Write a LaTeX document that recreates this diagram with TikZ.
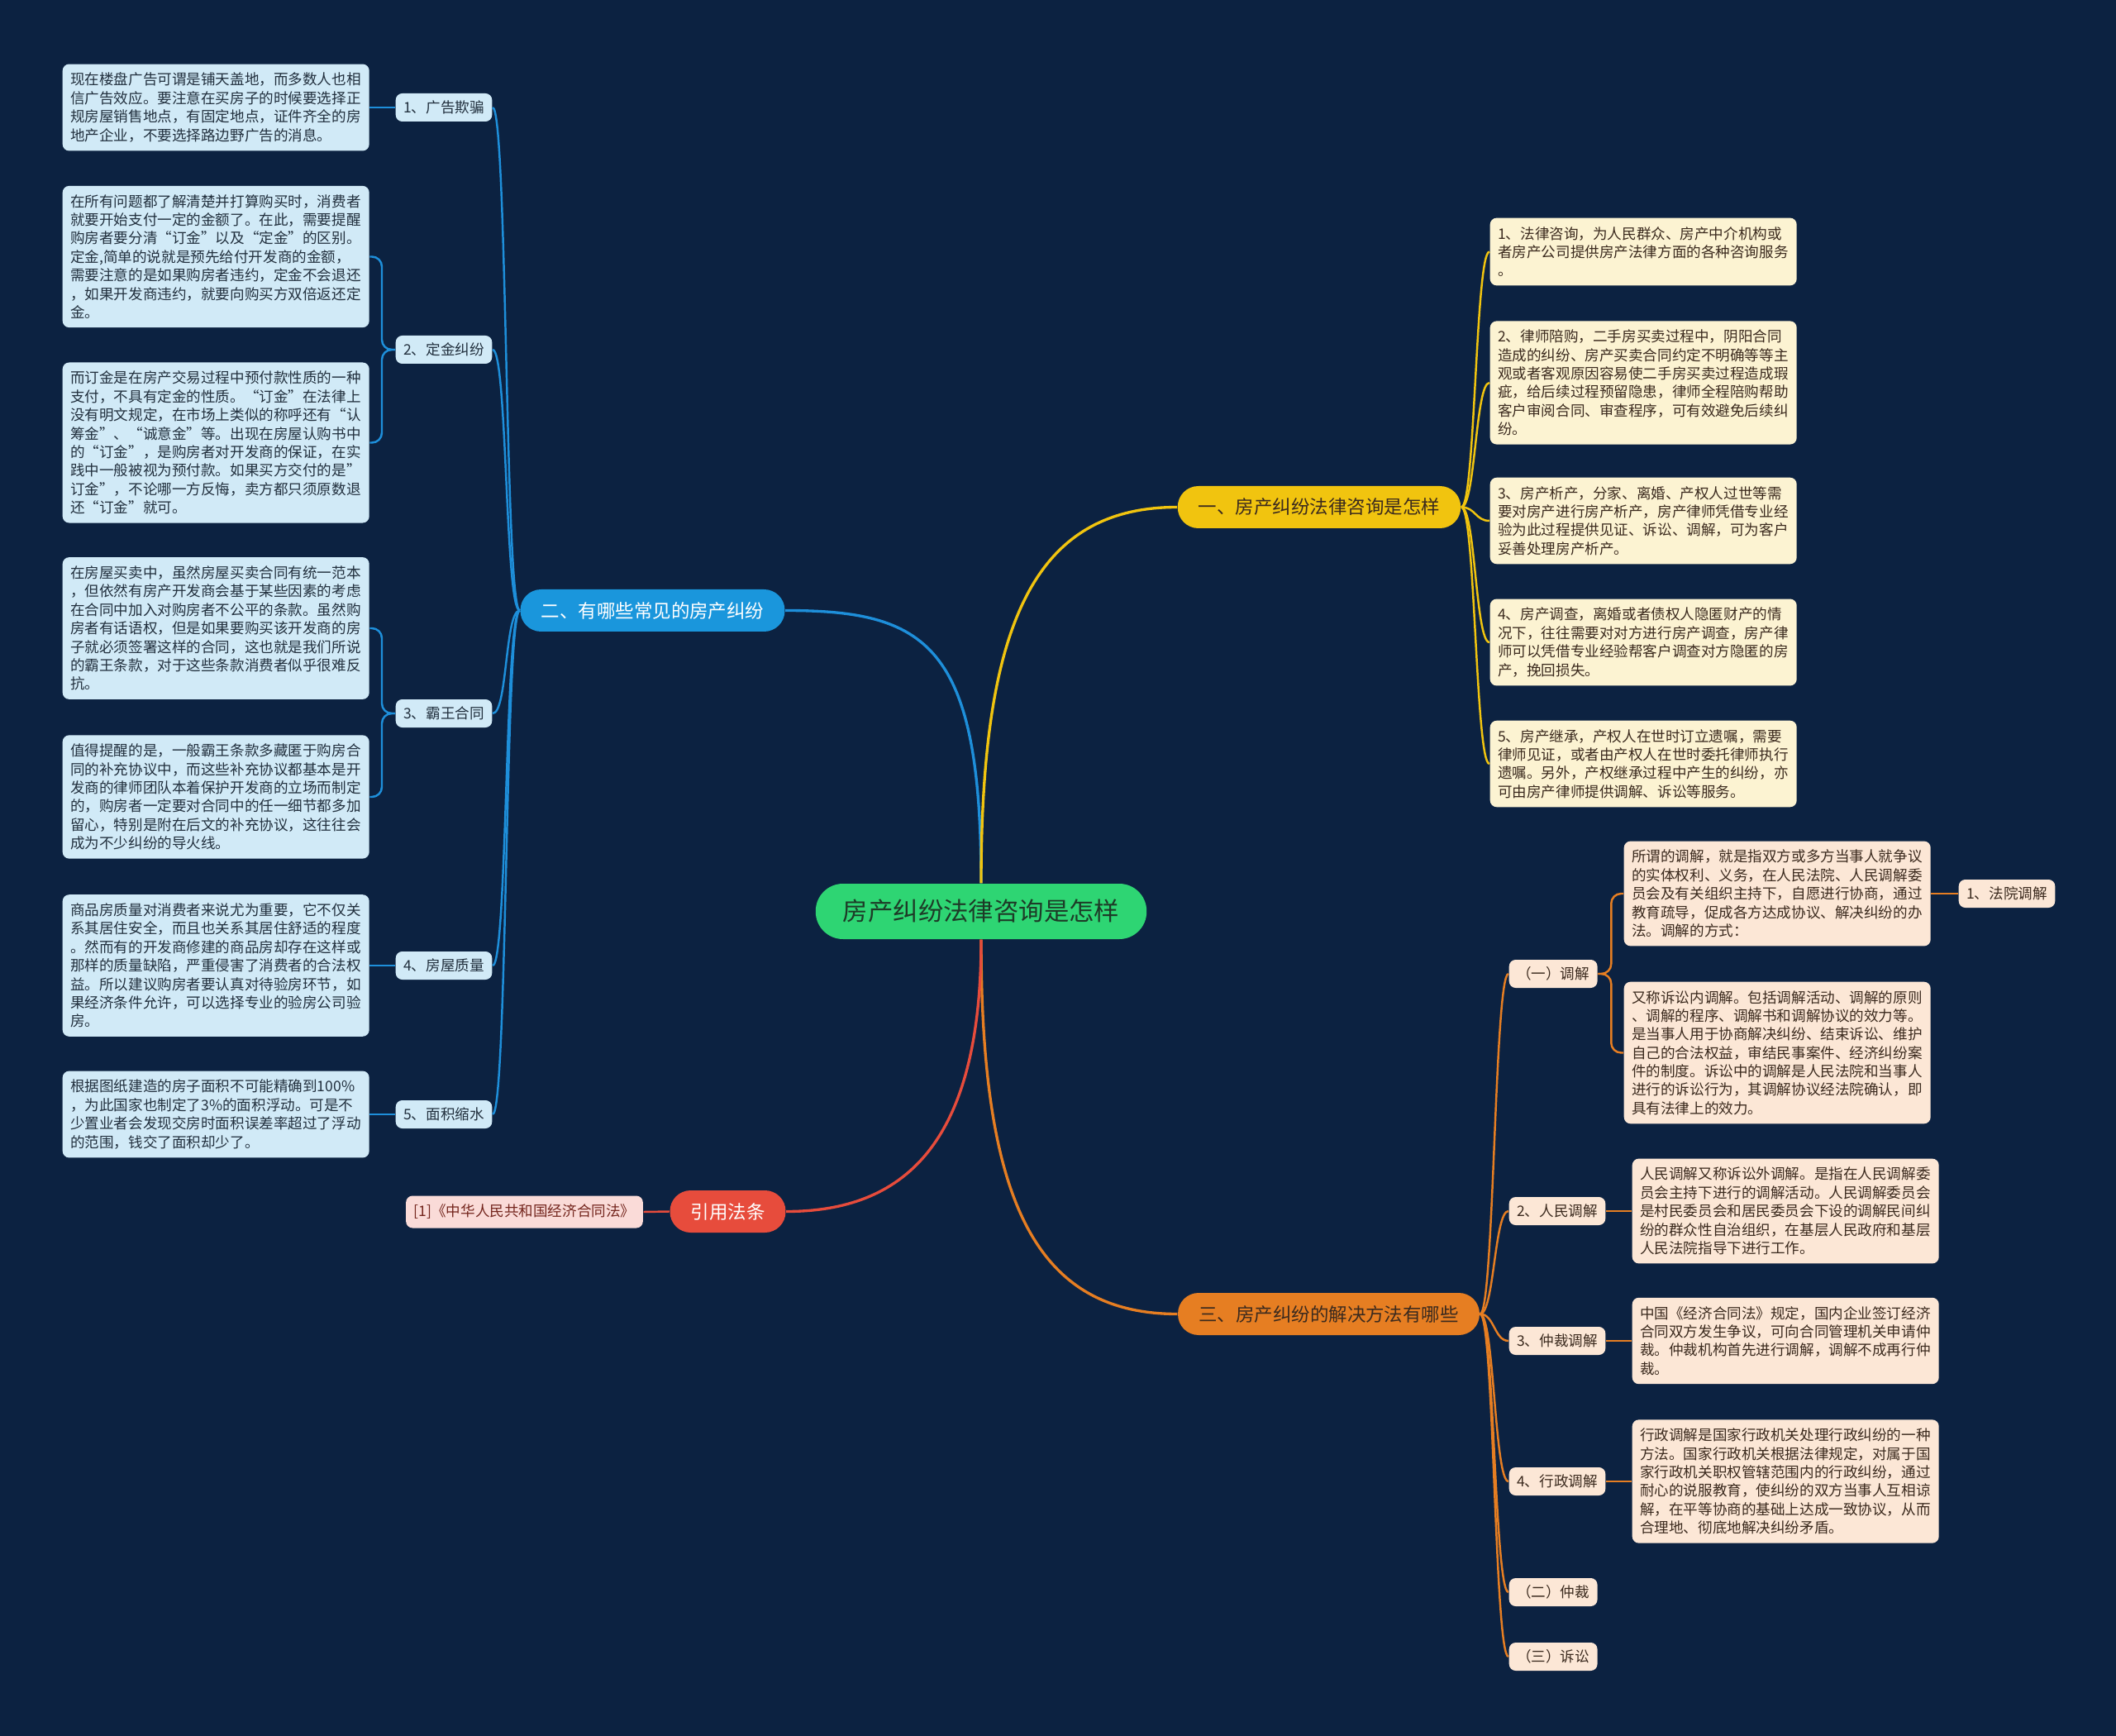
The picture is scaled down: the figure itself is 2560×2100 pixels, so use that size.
\documentclass[tikz,border=0pt]{standalone}
\usepackage{fontspec}
\setmainfont{Noto Sans CJK SC}
\usetikzlibrary{calc}
\definecolor{mapnavy}{HTML}{0C2241}
\definecolor{mapgreen}{HTML}{2ED573}
\definecolor{mapgreenink}{HTML}{1D3B27}
\definecolor{mapblue}{HTML}{1A96DC}
\definecolor{mapblueline}{HTML}{1E8FDA}
\definecolor{mapbluepale}{HTML}{D1EAF7}
\definecolor{mapyellow}{HTML}{F1C40F}
\definecolor{mapyellowpale}{HTML}{FCF3D2}
\definecolor{maporange}{HTML}{E67E22}
\definecolor{maporangepale}{HTML}{FCE7D6}
\definecolor{mapred}{HTML}{E74C3C}
\definecolor{mapredpale}{HTML}{FADBD8}
\definecolor{mapink}{HTML}{22303E}
\definecolor{mapbrown}{HTML}{3B2A1E}
\tikzset{
  mapcenter/.style={fill=mapgreen,text=mapgreenink,rounded corners=3.3mm,
    minimum height=6.7mm,inner xsep=3.3mm,inner ysep=0pt,
    font=\fontsize{8.65pt}{10pt}\selectfont},
  mapbranch/.style={rounded corners=2.5mm,minimum height=5.1mm,inner xsep=2.5mm,
    inner ysep=0pt,font=\fontsize{6.4pt}{8pt}\selectfont},
  maptag/.style={rounded corners=0.8mm,minimum height=3.4mm,inner xsep=0.95mm,
    inner ysep=0pt,anchor=west,font=\fontsize{5pt}{6.37pt}\selectfont},
  mapnote/.style={rounded corners=0.8mm,inner xsep=0.95mm,inner ysep=1.05mm,
    text width=35.2mm,align=left,anchor=west,font=\fontsize{5pt}{6.37pt}\selectfont},
  bluebox/.style={fill=mapbluepale,text=mapink},
  yellowbox/.style={fill=mapyellowpale,text=mapbrown},
  orangebox/.style={fill=maporangepale,text=mapbrown},
  mainedge/.style={line width=0.95pt},
  mapedge/.style={line width=0.7pt},
}

\begin{document}
\begin{tikzpicture}[x=0.1mm,y=-0.1mm]
  \fill[mapnavy] (0,0) rectangle (2560,2100);
  % root and main branches
  \node[mapcenter] (c) at (1187,1102.5) {房产纠纷法律咨询是怎样};
  \node[mapbranch,fill=mapblue,text=white] (b2) at (789.5,738.5) {二、有哪些常见的房产纠纷};
  \node[mapbranch,fill=mapyellow,text=mapbrown] (b1) at (1596,613.5) {一、房产纠纷法律咨询是怎样};
  \node[mapbranch,fill=maporange,text=mapbrown] (b3) at (1607.5,1589.5) {三、房产纠纷的解决方法有哪些};
  \node[mapbranch,fill=mapred,text=white] (b4) at (880.5,1465.5) {引用法条};
  \node[maptag,fill=mapredpale,text=mapred!50!black,anchor=center,minimum height=3.9mm] (r1) at (634.5,1466) {[1]《中华人民共和国经济合同法》};
  \draw[mainedge,mapblueline] (c.north) .. controls +(0,-290) and +(170,0) .. (b2.east);
  \draw[mainedge,mapyellow] (c.north) .. controls +(0,-310) and +(-175,0) .. (b1.west);
  \draw[mainedge,maporange] (c.south) .. controls +(0,310) and +(-175,0) .. (b3.west);
  \draw[mainedge,mapred] (c.south) .. controls +(0,250) and +(140,0) .. (b4.east);
  \draw[mapedge,mapred] (b4.west) -- (r1.east);

  % left side: common disputes
  \foreach \n/\y/\t in {1/130/1、广告欺骗,2/423/2、定金纠纷,3/863/3、霸王合同,4/1168/4、房屋质量,5/1348/5、面积缩水}
    {\node[maptag,bluebox] (s\n) at (478,\y) {\t};
     \draw[mapedge,mapblueline] (b2.west) .. controls +(-18,0) and +(18,0) .. (s\n.east);}
  \node[mapnote,bluebox] (n1) at (75,130) {现在楼盘广告可谓是铺天盖地，而多数人也相\\信广告效应。要注意在买房子的时候要选择正\\规房屋销售地点，有固定地点，证件齐全的房\\地产企业，不要选择路边野广告的消息。};
  \node[mapnote,bluebox] (n2a) at (75,310.5) {在所有问题都了解清楚并打算购买时，消费者\\就要开始支付一定的金额了。在此，需要提醒\\购房者要分清“订金”以及“定金”的区别。\\定金,简单的说就是预先给付开发商的金额，\\需要注意的是如果购房者违约，定金不会退还\\，如果开发商违约，就要向购买方双倍返还定\\金。};
  \node[mapnote,bluebox] (n2b) at (75,535.5) {而订金是在房产交易过程中预付款性质的一种\\支付，不具有定金的性质。“订金”在法律上\\没有明文规定，在市场上类似的称呼还有“认\\筹金”、“诚意金”等。出现在房屋认购书中\\的“订金”，是购房者对开发商的保证，在实\\践中一般被视为预付款。如果买方交付的是”\\订金”，不论哪一方反悔，卖方都只须原数退\\还“订金”就可。};
  \node[mapnote,bluebox] (n3a) at (75,760) {在房屋买卖中，虽然房屋买卖合同有统一范本\\，但依然有房产开发商会基于某些因素的考虑\\在合同中加入对购房者不公平的条款。虽然购\\房者有话语权，但是如果要购买该开发商的房\\子就必须签署这样的合同，这也就是我们所说\\的霸王条款，对于这些条款消费者似乎很难反\\抗。};
  \node[mapnote,bluebox] (n3b) at (75,964) {值得提醒的是，一般霸王条款多藏匿于购房合\\同的补充协议中，而这些补充协议都基本是开\\发商的律师团队本着保护开发商的立场而制定\\的，购房者一定要对合同中的任一细节都多加\\留心，特别是附在后文的补充协议，这往往会\\成为不少纠纷的导火线。};
  \node[mapnote,bluebox] (n4) at (75,1168) {商品房质量对消费者来说尤为重要，它不仅关\\系其居住安全，而且也关系其居住舒适的程度\\。然而有的开发商修建的商品房却存在这样或\\那样的质量缺陷，严重侵害了消费者的合法权\\益。所以建议购房者要认真对待验房环节，如\\果经济条件允许，可以选择专业的验房公司验\\房。};
  \node[mapnote,bluebox] (n5) at (75,1348) {根据图纸建造的房子面积不可能精确到100\%\\，为此国家也制定了3\%的面积浮动。可是不\\少置业者会发现交房时面积误差率超过了浮动\\的范围，钱交了面积却少了。};
  \foreach \a/\b in {2/2a,2/2b,3/3a,3/3b}
    {\draw[mapedge,mapblueline,rounded corners=1.2mm] (s\a.west) -- ++(-16,0) |- (n\b.east);}
  \foreach \a in {1,4,5}
    {\draw[mapedge,mapblueline] (s\a.west) -- (n\a.east |- s\a.west);}

  % right side, top: consulting services
  \node[mapnote,yellowbox] (y1) at (1802,304.5) {1、法律咨询，为人民群众、房产中介机构或\\者房产公司提供房产法律方面的各种咨询服务\\。};
  \node[mapnote,yellowbox] (y2) at (1802,463) {2、律师陪购，二手房买卖过程中，阴阳合同\\造成的纠纷、房产买卖合同约定不明确等等主\\观或者客观原因容易使二手房买卖过程造成瑕\\疵，给后续过程预留隐患，律师全程陪购帮助\\客户审阅合同、审查程序，可有效避免后续纠\\纷。};
  \node[mapnote,yellowbox] (y3) at (1802,630) {3、房产析产，分家、离婚、产权人过世等需\\要对房产进行房产析产，房产律师凭借专业经\\验为此过程提供见证、诉讼、调解，可为客户\\妥善处理房产析产。};
  \node[mapnote,yellowbox] (y4) at (1802,777) {4、房产调查，离婚或者债权人隐匿财产的情\\况下，往往需要对对方进行房产调查，房产律\\师可以凭借专业经验帮客户调查对方隐匿的房\\产，挽回损失。};
  \node[mapnote,yellowbox] (y5) at (1802,924) {5、房产继承，产权人在世时订立遗嘱，需要\\律师见证，或者由产权人在世时委托律师执行\\遗嘱。另外，产权继承过程中产生的纠纷，亦\\可由房产律师提供调解、诉讼等服务。};
  \foreach \k in {1,...,5}
    {\draw[mapedge,mapyellow] (b1.east) .. controls +(17,0) and +(-17,0) .. (y\k.west);}

  % right side, bottom: ways to settle
  \foreach \n/\y/\t in {1/1178/（一）调解,2/1465/2、人民调解,3/1622/3、仲裁调解,4/1792/4、行政调解,5/1926/（二）仲裁,6/2004/（三）诉讼}
    {\node[maptag,orangebox] (t\n) at (1825,\y) {\t};
     \draw[mapedge,maporange] (b3.east) .. controls +(17,0) and +(-17,0) .. (t\n.west);}
  \node[mapnote,orangebox] (p1a) at (1964,1081) {所谓的调解，就是指双方或多方当事人就争议\\的实体权利、义务，在人民法院、人民调解委\\员会及有关组织主持下，自愿进行协商，通过\\教育疏导，促成各方达成协议、解决纠纷的办\\法。调解的方式：};
  \node[mapnote,orangebox] (p1b) at (1964,1273.5) {又称诉讼内调解。包括调解活动、调解的原则\\、调解的程序、调解书和调解协议的效力等。\\是当事人用于协商解决纠纷、结束诉讼、维护\\自己的合法权益，审结民事案件、经济纠纷案\\件的制度。诉讼中的调解是人民法院和当事人\\进行的诉讼行为，其调解协议经法院确认，即\\具有法律上的效力。};
  \node[maptag,orangebox] (q1) at (2369,1081) {1、法院调解};
  \node[mapnote,orangebox] (p2) at (1974,1465) {人民调解又称诉讼外调解。是指在人民调解委\\员会主持下进行的调解活动。人民调解委员会\\是村民委员会和居民委员会下设的调解民间纠\\纷的群众性自治组织，在基层人民政府和基层\\人民法院指导下进行工作。};
  \node[mapnote,orangebox] (p3) at (1974,1622) {中国《经济合同法》规定，国内企业签订经济\\合同双方发生争议，可向合同管理机关申请仲\\裁。仲裁机构首先进行调解，调解不成再行仲\\裁。};
  \node[mapnote,orangebox] (p4) at (1974,1792) {行政调解是国家行政机关处理行政纠纷的一种\\方法。国家行政机关根据法律规定，对属于国\\家行政机关职权管辖范围内的行政纠纷，通过\\耐心的说服教育，使纠纷的双方当事人互相谅\\解，在平等协商的基础上达成一致协议，从而\\合理地、彻底地解决纠纷矛盾。};
  \foreach \a/\b in {1/1a,1/1b}
    {\draw[mapedge,maporange,rounded corners=1.2mm] (t\a.east) -- ++(16,0) |- (p\b.west);}
  \foreach \a in {2,3,4}
    {\draw[mapedge,maporange] (t\a.east) -- (p\a.west |- t\a.east);}
  \draw[mapedge,maporange] (p1a.east) -- (q1.west);
\end{tikzpicture}
\end{document}
